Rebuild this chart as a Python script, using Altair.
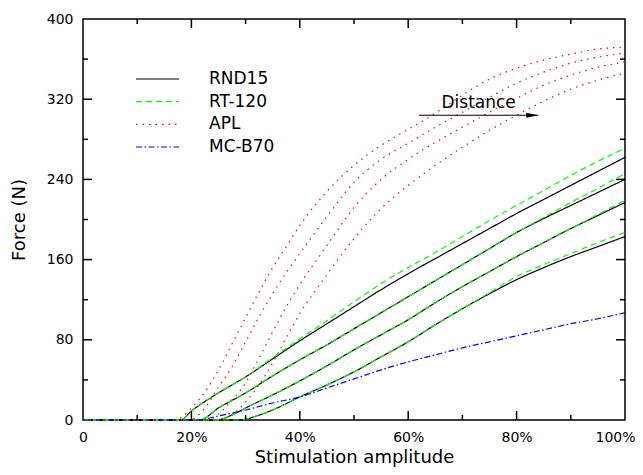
import altair as alt
import pandas as pd

# ---------------- data ----------------
series = ["RND15", "RT-120", "APL", "MC-B70"]
colors = ["#000000", "#00ff00", "#ff0000", "#0000ff"]
dashes = [[1, 0], [6, 4], [1.5, 5], [6, 2.5, 1.5, 2.5]]

# RND15 (black, solid) - 4 electrode distances
rnd1_x = [0, 18, 20, 25, 30, 35, 40, 45, 50, 55, 60, 65, 70, 75, 80, 85, 90, 95, 100]
rnd1_y = [0, 0, 9, 27, 43, 61, 79, 96, 113, 130, 146, 161, 176, 191, 206, 220, 234, 248, 262]
rnd2_x = [0, 21.5, 25, 30, 35, 40, 45, 50, 55, 60, 65, 70, 75, 80, 85, 90, 95, 100]
rnd2_y = [0, 0, 12, 27, 44, 60, 75, 91, 107, 123, 139, 155, 171, 187, 201, 214, 227, 240]
rnd3_x = [0, 24.5, 27.5, 30, 35, 40, 45, 50, 55, 60, 65, 70, 75, 80, 85, 90, 95, 100]
rnd3_y = [0, 0, 5, 12, 25, 39, 54, 70, 85, 100, 117, 133, 148, 163, 177, 191, 204, 217]
rnd4_x = [0, 29, 32, 35, 40, 45, 50, 55, 60, 65, 70, 75, 80, 85, 90, 95, 100]
rnd4_y = [0, 0, 4, 10, 23, 35, 48, 63, 78, 95, 111, 126, 140, 152, 163, 173, 183]

# RT-120 (green, dashed)
rt1_y = [0, 0, 9, 27, 43, 62, 81, 99, 118, 136, 152, 167, 183, 199, 214, 229, 244, 258, 271]
rt2_y = [0, 0, 12, 27, 44, 60, 75, 91, 107, 123, 139, 155, 171, 187, 202, 217, 231, 246]
rt3_y = [0, 0, 5, 12, 25, 39, 54, 70, 85, 100, 117, 133, 148, 163, 177, 191, 205, 219]
rt4_y = [0, 0, 4, 10, 23, 35, 48, 63, 78, 95, 111, 127, 143, 155, 166, 177, 187]

# APL (red, dotted)
apl1_x = [0, 17, 20, 22.5, 25, 27.5, 30, 32.5, 35, 37.5, 40, 45, 50, 55, 60, 65, 70, 75, 80, 85, 90, 95, 100]
apl1_y = [0, 0, 12, 28, 50, 76, 102, 128, 152, 173, 194, 228, 254, 274, 290, 306, 324, 340, 351, 359, 365, 370, 372]
apl2_x = [0, 19.5, 22.5, 25, 27.5, 30, 32.5, 35, 37.5, 40, 45, 50, 55, 60, 65, 70, 75, 80, 85, 90, 95, 100]
apl2_y = [0, 0, 12, 33, 53, 78, 103, 126, 147, 166, 203, 237, 260, 276, 292, 307, 322, 336, 347, 356, 362, 366]
apl3_x = [0, 23, 25, 27.5, 30, 32.5, 35, 37.5, 40, 45, 50, 55, 60, 65, 70, 75, 80, 85, 90, 95, 100]
apl3_y = [0, 0, 6, 20, 37, 62, 88, 113, 135, 174, 212, 240, 260, 277, 292, 307, 321, 334, 344, 352, 357]
apl4_x = [0, 26, 27.5, 30, 32.5, 35, 37.5, 40, 45, 50, 55, 60, 65, 70, 75, 80, 85, 90, 95, 100]
apl4_y = [0, 0, 5, 18, 35, 57, 82, 106, 145, 181, 211, 234, 254, 272, 289, 304, 318, 330, 339, 346]

# MC-B70 (blue, dash-dot)
mc_x = [0, 21, 25, 30, 35, 40, 45, 50, 55, 60, 65, 70, 75, 80, 85, 90, 95, 100]
mc_y = [0, 0, 4, 10, 17, 23, 32, 41, 50, 58, 65, 72, 78, 84, 90, 96, 101, 107]

# annotation
ann_label = ["Distance"]
ann_text_x = [73]
ann_text_y = [316]
arrow_x0 = [62]
arrow_x1 = [84]
arrow_y = [304]

# axes ticks
x_tick_values = [0, 20, 40, 60, 80, 100]
y_tick_values = [0, 80, 160, 240, 320, 400]
x_major = [20, 40, 60, 80]
x_minor = [10, 30, 50, 70, 90]
y_major = [80, 160, 240, 320]
y_minor = [40, 120, 200, 280, 360]

# ---------------- build table ----------------
curves = [
    ("RND15", rnd1_x, rnd1_y), ("RND15", rnd2_x, rnd2_y), ("RND15", rnd3_x, rnd3_y), ("RND15", rnd4_x, rnd4_y),
    ("RT-120", rnd1_x, rt1_y), ("RT-120", rnd2_x, rt2_y), ("RT-120", rnd3_x, rt3_y), ("RT-120", rnd4_x, rt4_y),
    ("APL", apl1_x, apl1_y), ("APL", apl2_x, apl2_y), ("APL", apl3_x, apl3_y), ("APL", apl4_x, apl4_y),
    ("MC-B70", mc_x, mc_y),
]
rows = []
for i, (name, xs, ys) in enumerate(curves):
    for x, y in zip(xs, ys):
        rows.append({"series": name, "curve": f"{name}-{i}", "amp": x, "force": y})
df = pd.DataFrame(rows)

W, H = 542, 401
FONT = "DejaVu Sans"

xsc = alt.Scale(domain=[0, 100], nice=False)
ysc = alt.Scale(domain=[0, 400], nice=False)
color_scale = alt.Scale(domain=series, range=colors)
dash_scale = alt.Scale(domain=series, range=dashes)

xaxis = alt.Axis(title="Stimulation amplitude", values=x_tick_values,
                 labelExpr="datum.value == 0 ? '0' : datum.value + '%'",
                 ticks=False, domain=False, grid=False, labelFlush=False, labelOverlap=False,
                 labelOffset={"condition": {"test": "datum.value == 100", "value": -10}, "value": 0},
                 labelFont=FONT, labelFontSize=14, labelColor="black", labelPadding=10,
                 titleFont=FONT, titleFontSize=18, titleFontWeight="normal", titleColor="black",
                 titlePadding=4)
yaxis = alt.Axis(title="Force (N)", values=y_tick_values,
                 ticks=False, domain=False, grid=False, labelOverlap=False,
                 labelFont=FONT, labelFontSize=14, labelColor="black", labelPadding=10,
                 titleFont=FONT, titleFontSize=18, titleFontWeight="normal", titleColor="black",
                 titlePadding=18)

X = alt.X("amp:Q", scale=xsc, axis=xaxis)
Y = alt.Y("force:Q", scale=ysc, axis=yaxis)

line_layers = []
for s in series:
    line_layers.append(
        alt.Chart(df[df["series"] == s]).mark_line(strokeWidth=1.2, interpolate="monotone").encode(
            x=X, y=Y,
            color=alt.Color("series:N", scale=color_scale, legend=None),
            strokeDash=alt.StrokeDash("series:N", scale=dash_scale, legend=None),
            detail="curve:N",
        )
    )

def xticks(vals, length):
    d = pd.DataFrame({"amp": vals})
    bottom = alt.Chart(d).mark_rule(color="black", strokeWidth=1.5).encode(
        x=X, y=alt.value(H), y2=alt.value(H - length))
    top = alt.Chart(d).mark_rule(color="black", strokeWidth=1.5).encode(
        x=X, y=alt.value(0), y2=alt.value(length))
    return [bottom, top]

def yticks(vals, length):
    d = pd.DataFrame({"force": vals})
    left = alt.Chart(d).mark_rule(color="black", strokeWidth=1.5).encode(
        y=Y, x=alt.value(0), x2=alt.value(length))
    right = alt.Chart(d).mark_rule(color="black", strokeWidth=1.5).encode(
        y=Y, x=alt.value(W), x2=alt.value(W - length))
    return [left, right]

tick_layers = xticks(x_major, 9) + xticks(x_minor, 5) + yticks(y_major, 9) + yticks(y_minor, 5)

arrow_df = pd.DataFrame({"amp": arrow_x0, "amp2": arrow_x1, "force": arrow_y})
arrow_line = alt.Chart(arrow_df).mark_rule(color="black", strokeWidth=1.2).encode(
    x=X, x2="amp2:Q", y=Y)
head_df = pd.DataFrame({"amp": arrow_x1, "force": arrow_y})
arrow_head = alt.Chart(head_df).mark_point(
    shape="M-2,-0.4L0,0L-2,0.4Z", filled=True, size=144, color="black", opacity=1).encode(x=X, y=Y)
text_df = pd.DataFrame({"amp": ann_text_x, "force": ann_text_y, "label": ann_label})
ann_text = alt.Chart(text_df).mark_text(font=FONT, fontSize=17, color="black",
                                        align="center", baseline="middle").encode(
    x=X, y=Y, text="label:N")

main = alt.layer(*line_layers, *tick_layers, arrow_line, arrow_head, ann_text)

legend_df = pd.DataFrame({"series": series})
leg_y = alt.Y("series:N", scale=alt.Scale(type="point", domain=series, range=[60, 128], padding=0), axis=None)
leg_rule = alt.Chart(legend_df).mark_rule(strokeWidth=1.2).encode(
    x=alt.value(53), x2=alt.value(96), y=leg_y,
    color=alt.Color("series:N", scale=color_scale, legend=None),
    strokeDash=alt.StrokeDash("series:N", scale=dash_scale, legend=None))
leg_text = alt.Chart(legend_df).mark_text(font=FONT, fontSize=17, color="black",
                                          align="left", baseline="middle").encode(
    x=alt.value(126), y=leg_y, text="series:N")
legend = alt.layer(leg_rule, leg_text)

chart = alt.layer(main, legend).resolve_scale(y="independent").properties(
    width=W, height=H,
    autosize=alt.AutoSizeParams(type="none"),
    padding={"left": 75, "top": 11, "right": 10, "bottom": 47},
    background="white",
).configure_view(stroke="black", strokeWidth=1.5)

chart.save("out.html", embed_options={"renderer": "svg", "actions": False})
